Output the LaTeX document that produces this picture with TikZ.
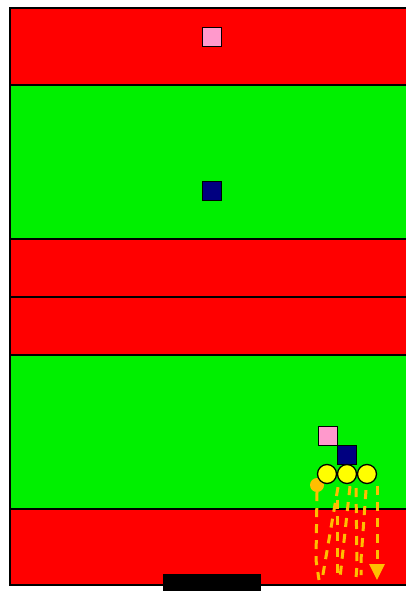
\documentclass[tikz,border=0pt]{standalone}
\usetikzlibrary{arrows.meta}
\definecolor{fieldred}{RGB}{255,0,0}
\definecolor{fieldgreen}{RGB}{0,240,0}
\definecolor{pinkp}{RGB}{255,153,204}
\definecolor{navyp}{RGB}{0,0,128}
\definecolor{ballc}{RGB}{255,190,0}
\definecolor{yellowp}{RGB}{255,255,0}
\tikzset{
  band/.style={draw=black, line width=1.4pt},
  sq/.style={draw=black, line width=1.3pt, minimum size=19pt, inner sep=0pt},
  player/.style={circle, draw=black, fill=yellowp, line width=1.3pt, minimum size=19pt, inner sep=0pt},
  ball/.style={circle, fill=ballc, minimum size=14pt, inner sep=0pt},
  run/.style={draw=ballc, line width=3pt, dash pattern=on 9pt off 7pt},
}
\begin{document}
\begin{tikzpicture}[x=1pt,y=-1pt]
\useasboundingbox (0,0) rectangle (406,591);
\clip (0,0) rectangle (406,591);
% bands
\fill[fieldred] (10,8) rectangle (410,85);
\fill[fieldgreen] (10,85) rectangle (410,239);
\fill[fieldred] (10,239) rectangle (410,355);
\fill[fieldgreen] (10,355) rectangle (410,509);
\fill[fieldred] (10,509) rectangle (410,585);
\draw[band] (10,8) rectangle (412,585);
\draw[band] (10,85) -- (412,85);
\draw[band] (10,239) -- (412,239);
\draw[band] (10,297) -- (412,297);
\draw[band] (10,355) -- (412,355);
\draw[band] (10,509) -- (412,509);
% goal bar
\fill[black] (163,574) rectangle (261,592);
% top players
\node[sq, fill=pinkp] (p1) at (212,37) {};
\node[sq, fill=navyp] (n1) at (212,191) {};
% bottom group
\node[sq, fill=pinkp] (p2) at (328,436) {};
\node[sq, fill=navyp] (n2) at (347,455) {};
\node[ball] (b) at (317,485) {};
\node[player] (y1) at (327,474) {};
\node[player] (y2) at (347,474) {};
\node[player] (y3) at (367,474) {};
% runs
\coordinate (e1) at (319,580);
\coordinate (e2) at (322,580);
\coordinate (e3) at (337,580);
\coordinate (e4) at (340,578);
\coordinate (e5) at (356,578);
\coordinate (e6) at (361,575);
\coordinate (e7) at (377,580);
\draw[run] (b.south) -- (316,560) -- (e1);
\draw[run] (y1.south -| 338,0) ++(0,3) -- (e2);
\draw[run] (337,500) -- (e3);
\draw[run] (y2.south) ++(3,2) -- (e4);
\draw[run] (356,488) -- (357,565) -- (e5);
\draw[run] (y3.south) ++(-1,6) -- (361,560) -- (e6);
\draw[run, -{Triangle[length=16pt,width=15pt]}] (377,486) -- (e7);
\end{tikzpicture}
\end{document}
